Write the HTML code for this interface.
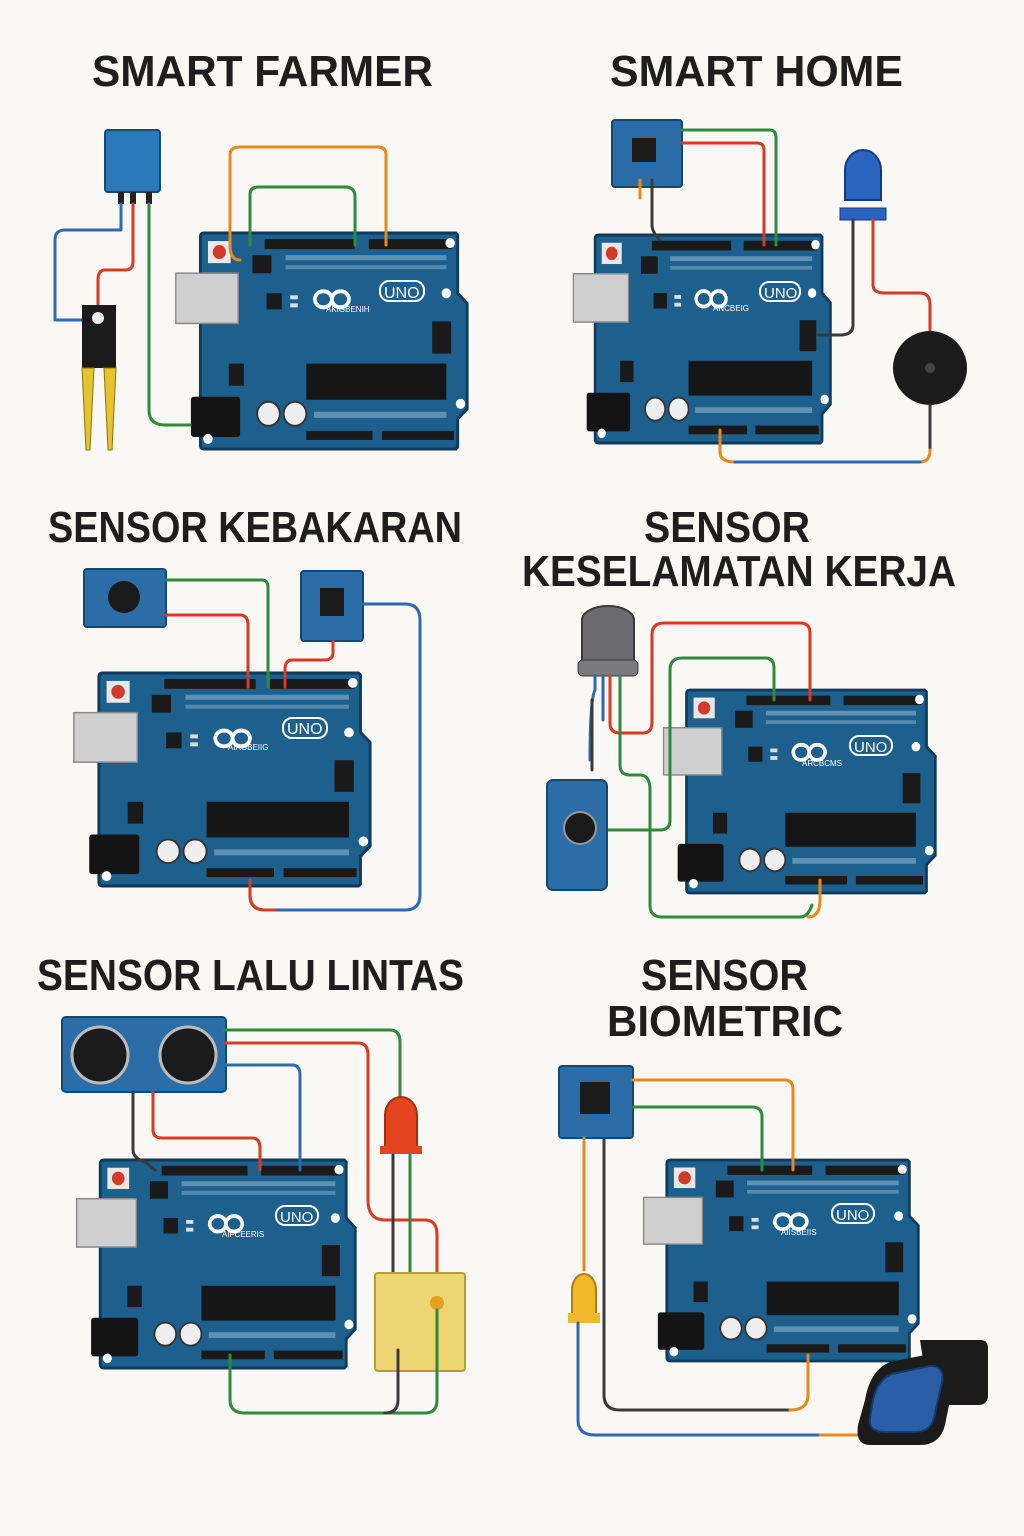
<!DOCTYPE html>
<html><head><meta charset="utf-8"><style>
html,body{margin:0;padding:0;background:#f9f8f4;}
svg{display:block;}
.t{font-family:"Liberation Sans",sans-serif;font-weight:bold;font-size:44px;fill:#1e1e1e}
.w{fill:none;stroke-width:3;stroke-linejoin:round;stroke-linecap:round}
.o{stroke:#e8891c}.g{stroke:#2f8a3c}.r{stroke:#d83a24}.b{stroke:#2e69b3}.k{stroke:#3a3a3a}
.lg{font-family:"Liberation Sans",sans-serif;fill:#fff}
.uo{fill:none;stroke:#fff;stroke-width:2}
</style></head><body>
<svg width="1024" height="1536" viewBox="0 0 1024 1536" xmlns="http://www.w3.org/2000/svg">
<defs>
<symbol id="bd" viewBox="-30 0 315 215" overflow="visible" preserveAspectRatio="none">
<path d="M4 0 H270 L272 2 V60 L282 70 V175 L272 185 V213 L270 215 H4 Q0 215 0 211 V4 Q0 0 4 0Z" fill="#1d5f8d" stroke="#0f3a5a" stroke-width="3"/>
<rect x="-26" y="40" width="66" height="50" fill="#cfcfcf" stroke="#888" stroke-width="1.5"/>
<rect x="8" y="8" width="24" height="22" fill="#e8e8e8"/><circle cx="20" cy="19" r="7" fill="#d23a2a"/>
<rect x="68" y="6" width="95" height="10" fill="#1a1a1a"/><rect x="178" y="6" width="88" height="10" fill="#1a1a1a"/>
<rect x="55" y="22" width="20" height="18" fill="#1a1a1a"/>
<rect x="90" y="22" width="170" height="5" fill="#8fb3cc" opacity=".6"/>
<rect x="90" y="32" width="170" height="4" fill="#8fb3cc" opacity=".5"/>
<rect x="70" y="60" width="16" height="16" fill="#1a1a1a"/>
<rect x="95" y="62" width="8" height="4" fill="#ddd"/><rect x="95" y="70" width="8" height="4" fill="#ddd"/>
<rect x="245" y="88" width="20" height="32" fill="#1a1a1a"/>
<rect x="30" y="130" width="16" height="22" fill="#1a1a1a"/>
<rect x="112" y="130" width="148" height="36" fill="#161616"/>
<rect x="-10" y="163" width="52" height="40" rx="3" fill="#141414"/>
<circle cx="72" cy="180" r="12" fill="#eee" stroke="#333" stroke-width="2"/>
<circle cx="100" cy="180" r="12" fill="#eee" stroke="#333" stroke-width="2"/>
<rect x="120" y="178" width="140" height="6" fill="#8fb3cc" opacity=".6"/>
<rect x="112" y="197" width="70" height="9" fill="#1a1a1a"/><rect x="192" y="197" width="76" height="9" fill="#1a1a1a"/>
<circle cx="264" cy="10" r="5" fill="#fff"/><circle cx="275" cy="170" r="5" fill="#fff"/><circle cx="8" cy="205" r="5" fill="#fff"/><circle cx="260" cy="60" r="5" fill="#fff"/>
<path d="M130 58 a9 8 0 1 0 0.1 0 M148 58 a9 8 0 1 0 0.1 0" fill="none" stroke="#fff" stroke-width="4"/>
</symbol>
</defs>

<text class="t" x="92" y="86" textLength="341" lengthAdjust="spacingAndGlyphs">SMART FARMER</text>
<text class="t" x="610" y="86" textLength="293" lengthAdjust="spacingAndGlyphs">SMART HOME</text>
<text class="t" x="48" y="542" textLength="414" lengthAdjust="spacingAndGlyphs">SENSOR KEBAKARAN</text>
<text class="t" x="644" y="542" textLength="166" lengthAdjust="spacingAndGlyphs">SENSOR</text>
<text class="t" x="522" y="586" textLength="434" lengthAdjust="spacingAndGlyphs">KESELAMATAN KERJA</text>
<text class="t" x="37" y="990" textLength="427" lengthAdjust="spacingAndGlyphs">SENSOR LALU LINTAS</text>
<text class="t" x="641" y="990" textLength="167" lengthAdjust="spacingAndGlyphs">SENSOR</text>
<text class="t" x="607" y="1036" textLength="236" lengthAdjust="spacingAndGlyphs">BIOMETRIC</text>

<!-- Board 1 -->
<use href="#bd" x="172" y="233" width="298" height="216"/>
<rect class="uo" x="380" y="281" width="44" height="20" rx="9"/>
<text class="lg" x="384" y="298" font-size="16">UNO</text>
<text class="lg" x="326" y="312" font-size="8">AKIGBENIH</text>
<rect x="105" y="130" width="55" height="62" rx="3" fill="#2b79b8" stroke="#164a70" stroke-width="2"/>
<rect x="118" y="192" width="6" height="12" fill="#222"/><rect x="130" y="192" width="6" height="12" fill="#222"/><rect x="146" y="192" width="6" height="12" fill="#222"/>
<path class="w b" d="M121 204 V230 H65 Q55 230 55 240 V320 H82"/>
<path class="w r" d="M133 204 V262 Q133 270 125 270 H105 Q98 270 98 280 V305"/>
<path class="w g" d="M149 204 V410 Q149 425 165 425 H190"/>
<path d="M82 305 H116 V368 H82Z" fill="#1b1b1b"/><circle cx="98" cy="318" r="6" fill="#eee"/>
<path d="M82 368 H94 L90 450 L86 450Z" fill="#e6c22e" stroke="#8a7410"/><path d="M104 368 H116 L112 450 L108 450Z" fill="#e6c22e" stroke="#8a7410"/>
<path class="w o" d="M240 260 Q230 260 230 245 V155 Q230 147 240 147 H378 Q386 147 386 155 V245"/>
<path class="w g" d="M250 245 V195 Q250 187 258 187 H345 Q355 187 355 197 V245"/>

<!-- Board 2 -->
<use href="#bd" x="570" y="235" width="263" height="208"/>
<rect class="uo" x="760" y="282" width="40" height="19" rx="9"/>
<text class="lg" x="764" y="298" font-size="15">UNO</text>
<text class="lg" x="713" y="311" font-size="8">ANCBEIG</text>
<rect x="612" y="120" width="70" height="67" rx="3" fill="#2b6da6" stroke="#154870" stroke-width="2"/><rect x="632" y="138" width="24" height="24" fill="#1b1b1b"/>
<path class="w o" d="M640 180 V198"/>
<path class="w k" d="M652 180 V225 Q652 232 660 240"/>
<path class="w g" d="M682 130 H770 Q776 130 776 138 V245"/>
<path class="w r" d="M682 143 H757 Q764 143 764 150 V245"/>
<path d="M845 200 V170 a18 20 0 0 1 36 0 V200Z" fill="#2b63c0" stroke="#153a80" stroke-width="2"/><rect x="840" y="208" width="46" height="12" fill="#2b63c0" stroke="#153a80"/>
<path class="w k" d="M853 220 V325 Q853 335 840 335 H818"/>
<path class="w r" d="M873 220 V285 Q873 293 885 293 H920 Q930 293 930 305 V330"/>
<circle cx="930" cy="368" r="37" fill="#1b1b1b"/><circle cx="930" cy="368" r="5" fill="#444"/>
<path class="w k" d="M930 405 V450"/>
<path class="w o" d="M720 430 V452 Q720 462 735 462 H920 Q930 462 930 450"/>
<path class="w b" d="M735 462 H920"/>

<!-- Board 3 -->
<use href="#bd" x="70" y="673" width="303" height="213"/>
<rect class="uo" x="283" y="718" width="44" height="20" rx="9"/>
<text class="lg" x="287" y="734" font-size="16">UNO</text>
<text class="lg" x="228" y="750" font-size="8">AIAGBEIIG</text>
<rect x="84" y="569" width="82" height="58" rx="3" fill="#2b6da6" stroke="#154870" stroke-width="2"/><circle cx="124" cy="597" r="16" fill="#1b1b1b"/>
<path class="w g" d="M166 580 H262 Q268 580 268 588 V687"/>
<path class="w r" d="M166 615 H240 Q248 615 248 625 V687"/>
<rect x="301" y="571" width="62" height="70" rx="3" fill="#2b6da6" stroke="#154870" stroke-width="2"/><rect x="320" y="588" width="24" height="28" fill="#1b1b1b"/>
<path class="w r" d="M333 641 V652 Q333 660 325 660 H292 Q285 660 285 670 V687"/>
<path class="w b" d="M363 604 H405 Q420 604 420 620 V895 Q420 910 405 910 H265 Q250 910 250 895 V880"/>
<path class="w r" d="M250 880 V895 Q250 910 265 910 H275"/>

<!-- Board 4 -->
<use href="#bd" x="660" y="690" width="278" height="203"/>
<rect class="uo" x="850" y="736" width="42" height="19" rx="9"/>
<text class="lg" x="854" y="752" font-size="15">UNO</text>
<text class="lg" x="802" y="766" font-size="8">ARCBCMS</text>
<path d="M582 620 a26 14 0 0 1 52 0 V660 a26 14 0 0 1 -52 0Z" fill="#6c6c70" stroke="#3a3a3a" stroke-width="2"/>
<rect x="578" y="660" width="60" height="16" rx="5" fill="#7a7a7e" stroke="#3a3a3a"/>
<path class="w b" d="M595 676 V690 Q590 700 590 760"/><path class="w k" d="M592 700 V770"/>
<path class="w b" d="M603 676 V720"/>
<path class="w r" d="M610 676 V723 Q610 733 620 733 H643 Q652 733 652 722 V635 Q652 623 664 623 H800 Q810 623 810 633 V700"/>
<path class="w g" d="M620 676 V765 Q620 775 630 775 H640 Q650 775 650 790 V905 Q650 917 662 917 H800 Q808 917 812 905"/>
<path class="w o" d="M808 917 Q820 917 820 900 V880"/>
<path class="w g" d="M600 830 H660 Q670 830 670 820 V670 Q670 658 682 658 H765 Q774 658 774 668 V700"/>
<rect x="547" y="780" width="60" height="110" rx="6" fill="#2b6da6" stroke="#154870" stroke-width="2"/><circle cx="580" cy="828" r="16" fill="#1b1b1b" stroke="#999" stroke-width="2"/>

<!-- Board 5 -->
<use href="#bd" x="73" y="1160" width="285" height="208"/>
<rect class="uo" x="276" y="1206" width="42" height="19" rx="9"/>
<text class="lg" x="280" y="1222" font-size="15">UNO</text>
<text class="lg" x="222" y="1237" font-size="8">AIFCEERIS</text>
<rect x="62" y="1017" width="164" height="75" rx="4" fill="#2b6da6" stroke="#154870" stroke-width="2"/>
<circle cx="100" cy="1055" r="28" fill="#1b1b1b" stroke="#bbb" stroke-width="3"/><circle cx="188" cy="1055" r="28" fill="#1b1b1b" stroke="#bbb" stroke-width="3"/>
<path class="w k" d="M133 1092 V1150 Q133 1158 145 1162 L155 1170"/>
<path class="w r" d="M153 1092 V1130 Q153 1138 162 1138 H252 Q260 1138 260 1148 V1170"/>
<path class="w b" d="M224 1065 H292 Q300 1065 300 1075 V1170"/>
<path class="w g" d="M224 1030 H390 Q400 1030 400 1042 V1100"/>
<path class="w r" d="M224 1043 H358 Q368 1043 368 1055 V1200 Q368 1220 385 1220 H425 Q437 1220 437 1235 V1290"/>
<path d="M385 1148 V1115 a16 18 0 0 1 32 0 V1148Z" fill="#e5451e" stroke="#a62e10" stroke-width="2"/><rect x="380" y="1146" width="42" height="8" fill="#e5451e"/>
<path class="w k" d="M393 1155 V1285"/><path class="w g" d="M410 1155 V1285"/>
<rect x="375" y="1273" width="90" height="98" rx="3" fill="#ecd572" stroke="#b79c30" stroke-width="2"/>
<circle cx="437" cy="1303" r="7" fill="#e5a020"/>
<path class="w g" d="M230 1355 V1400 Q230 1413 245 1413 H425 Q437 1413 437 1400 V1310"/>
<path class="w k" d="M398 1350 V1400 Q398 1413 385 1413"/>

<!-- Board 6 -->
<use href="#bd" x="640" y="1160" width="281" height="201"/>
<rect class="uo" x="832" y="1204" width="42" height="19" rx="9"/>
<text class="lg" x="836" y="1220" font-size="15">UNO</text>
<text class="lg" x="781" y="1235" font-size="8">AIISBEIIS</text>
<rect x="559" y="1066" width="74" height="72" rx="3" fill="#2b6da6" stroke="#154870" stroke-width="2"/><rect x="580" y="1082" width="30" height="32" fill="#1b1b1b"/>
<path class="w o" d="M633 1080 H785 Q793 1080 793 1090 V1170"/>
<path class="w g" d="M633 1107 H752 Q762 1107 762 1117 V1170"/>
<path class="w o" d="M584 1138 V1270"/>
<path d="M572 1315 V1290 a12 16 0 0 1 24 0 V1315Z" fill="#f0b82a" stroke="#b07e10" stroke-width="2"/><rect x="568" y="1313" width="32" height="10" fill="#f0b82a"/>
<path class="w b" d="M578 1323 V1420 Q578 1435 595 1435 H850"/>
<path class="w k" d="M604 1140 V1395 Q604 1410 620 1410 H790"/>
<path class="w o" d="M790 1410 Q808 1410 808 1395 V1355"/>
<path class="w o" d="M820 1435 H858"/>
<path d="M920 1340 H980 Q988 1340 988 1348 V1395 Q988 1405 978 1405 H930Z" fill="#1b1b1b"/>
<path d="M865 1400 Q870 1370 890 1362 L940 1352 Q960 1352 955 1375 L945 1425 Q940 1445 920 1445 H870 Q855 1445 858 1425Z" fill="#1b1b1b"/>
<path d="M872 1405 Q876 1380 892 1374 L930 1366 Q945 1366 942 1382 L934 1418 Q930 1432 915 1432 H885 Q868 1432 870 1418Z" fill="#2a5fa8" stroke="#163a70" stroke-width="2"/>
</svg>
</body></html>
